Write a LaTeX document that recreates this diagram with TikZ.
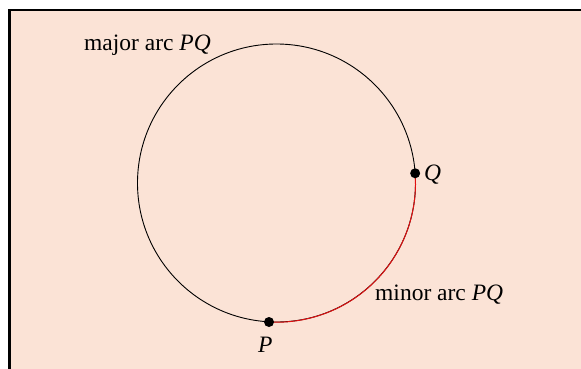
\documentclass[tikz,border=0pt]{standalone}
\usepackage{fontspec}
\setmainfont{Liberation Serif}
\definecolor{peach}{HTML}{FBE3D6}
\definecolor{arcred}{HTML}{E01010}
\begin{document}
\begin{tikzpicture}[x=1pt,y=-1pt,
  lbl/.style={inner sep=0pt,font=\fontsize{23.5}{26}\selectfont},
  pt/.style={circle,fill=black,inner sep=0pt,minimum size=10pt}]
\useasboundingbox (0,0) rectangle (581,368);
\fill[white] (0,0) rectangle (581,368);
\fill[peach,draw=black,line width=2.6pt] (9.5,10) rectangle (620,420);
\coordinate (C) at (276.5,183);
\draw[black,line width=0.9pt] (C) circle[radius=139];
\coordinate (P0) at (269,322);
\draw[arcred,line width=1pt] (P0) arc[start angle=93.1,end angle=-4.1,radius=139] coordinate (Q0);
\node[pt] (P) at (P0) {};
\node[pt] (Q) at (Q0) {};
\node[lbl,anchor=base west] (maj) at (84,50) {major arc \textit{PQ}};
\node[lbl,anchor=base west] (ql) at (424,180) {\textit{Q}};
\node[lbl,anchor=base west] (minl) at (375,300) {minor arc \textit{PQ}};
\node[lbl,anchor=base west] (pl) at (258,352) {\textit{P}};
\end{tikzpicture}
\end{document}
